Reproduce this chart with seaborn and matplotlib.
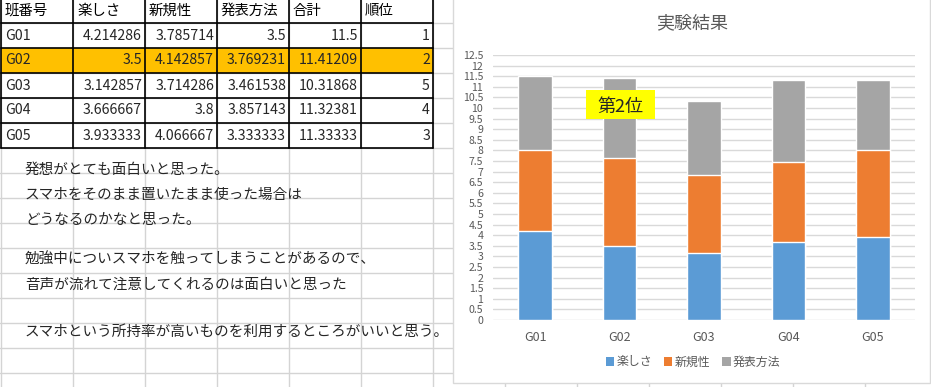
import numpy as np
import pandas as pd
import matplotlib
matplotlib.use("Agg")
import matplotlib.pyplot as plt
from matplotlib.patches import Rectangle, Patch
import seaborn as sns

# table / chart data
groups = ["G01", "G02", "G03", "G04", "G05"]
tanoshisa = [4.214286, 3.5, 3.142857, 3.666667, 3.933333]
shinkisei = [3.785714, 4.142857, 3.714286, 3.8, 4.066667]
happyo = [3.5, 3.769231, 3.461538, 3.857143, 3.333333]
totals = [11.5, 11.41209, 10.31868, 11.32381, 11.33333]
ranks = [1, 2, 5, 4, 3]
headers = ["班番号", "楽しさ", "新規性", "発表方法", "合計", "順位"]
series_names = ["楽しさ", "新規性", "発表方法"]
highlight_group = "G02"
chart_title = "実験結果"
note_label = "第2位"

comment_lines = [
    "発想がとても面白いと思った。",
    "スマホをそのまま置いたまま使った場合は",
    "どうなるのかなと思った。",
    "勉強中についスマホを触ってしまうことがあるので、",
    "音声が流れて注意してくれるのは面白いと思った",
    "スマホという所持率が高いものを利用するところがいいと思う。",
]

colors = ["#5B9BD5", "#ED7D31", "#A5A5A5"]

sns.set_style("white")
plt.rcParams["font.family"] = ["Noto Sans CJK JP", "DejaVu Sans"]

W, H = 931, 387
fig = plt.figure(figsize=(W / 100, H / 100), dpi=100)

# ---- spreadsheet background (pixel coords) ----
bg = fig.add_axes([0, 0, 1, 1])
bg.set_xlim(0, W)
bg.set_ylim(H, 0)
bg.axis("off")

col_x = [1 + 72 * i for i in range(13)]
row_y = [23 + 25 * i for i in range(15)]
grid_c = "#D4D4D4"
for x in col_x:
    bg.plot([x, x], [0, H], color=grid_c, lw=1, zorder=1)
for y in row_y:
    bg.plot([0, W], [y, y], color=grid_c, lw=1, zorder=1)

# highlighted row
hi = groups.index(highlight_group)
bg.add_patch(Rectangle((col_x[0], row_y[hi]), col_x[6] - col_x[0], 25,
                       facecolor="#FFC000", edgecolor="none", zorder=2))

# table borders
for y in row_y[:6]:
    bg.plot([col_x[0], col_x[6]], [y, y], color="black", lw=1.2, zorder=3)
for x in col_x[:7]:
    bg.plot([x, x], [0, row_y[5]], color="black", lw=1.2, zorder=3)

# header texts
for j, h in enumerate(headers):
    bg.text(col_x[j] + 4, 11, h, ha="left", va="center", fontsize=10.4, color="black", zorder=4)

# table rows
table = pd.DataFrame({"g": groups, "a": tanoshisa, "b": shinkisei, "c": happyo, "t": totals, "r": ranks})
for i, row in table.iterrows():
    yc = row_y[i] + 12.5
    bg.text(col_x[0] + 4, yc, row["g"], ha="left", va="center", fontsize=10.2, zorder=4)
    vals = [row["a"], row["b"], row["c"], row["t"]]
    for j, v in enumerate(vals):
        bg.text(col_x[j + 2] - 3, yc, f"{v:.7g}", ha="right", va="center", fontsize=10.2, zorder=4)
    bg.text(col_x[6] - 3, yc, f"{int(row['r'])}", ha="right", va="center", fontsize=10.2, zorder=4)

# comments
comment_y = [170, 195, 220, 260, 285, 332]
for txt, y in zip(comment_lines, comment_y):
    bg.text(25, y, txt, ha="left", va="center", fontsize=10.5, color="#262626", zorder=4)

# chart box
bg.add_patch(Rectangle((453, -2), W - 453 - 1, 385, facecolor="white",
                       edgecolor="#D9D9D9", lw=1, zorder=5))
bg.text(692, 23, chart_title, ha="center", va="center", fontsize=13, color="#595959", zorder=6)

# ---- stacked bar chart ----
ax = fig.add_axes([493 / W, 67 / H, 422 / W, 265 / H])
ax.patch.set_alpha(0)

stack = np.array([tanoshisa, shinkisei, happyo])
cum = np.cumsum(stack, axis=0)
for k in range(2, -1, -1):
    df = pd.DataFrame({"group": groups, "value": cum[k]})
    sns.barplot(data=df, x="group", y="value", color=colors[k], width=0.4,
                saturation=1, errorbar=None, ax=ax, zorder=3)

ax.set_xlim(-0.5, 4.5)
ax.set_ylim(0, 12.5)
yt = np.arange(0, 12.51, 0.5)
ax.set_yticks(yt)
ax.set_yticklabels([f"{v:g}" for v in yt])
ax.yaxis.grid(True, color="#D9D9D9", lw=1, zorder=0)
ax.set_axisbelow(True)
ax.tick_params(axis="y", length=0, pad=7, labelsize=7.6, labelcolor="#595959")
ax.tick_params(axis="x", length=0, pad=8, labelsize=9, labelcolor="#595959")
ax.set_xlabel("")
ax.set_ylabel("")
for s in ax.spines.values():
    s.set_visible(False)

handles = [Patch(facecolor=c, edgecolor="none") for c in colors]
leg = fig.legend(handles, series_names, loc="center", bbox_to_anchor=(693 / W, 1 - 362 / H),
                 ncol=3, frameon=False, fontsize=8.6, handlelength=0.7, handleheight=0.7,
                 handletextpad=0.2, columnspacing=1.0)
for t in leg.get_texts():
    t.set_color("#595959")

# label box over G02
top = fig.add_axes([0, 0, 1, 1])
top.set_xlim(0, W)
top.set_ylim(H, 0)
top.axis("off")
top.add_patch(Rectangle((586, 90), 69, 29, facecolor="#FFFF00", edgecolor="none"))
top.text(620, 107, note_label, ha="center", va="center", fontsize=13, color="#262626")

plt.savefig("out.png", dpi=100)
